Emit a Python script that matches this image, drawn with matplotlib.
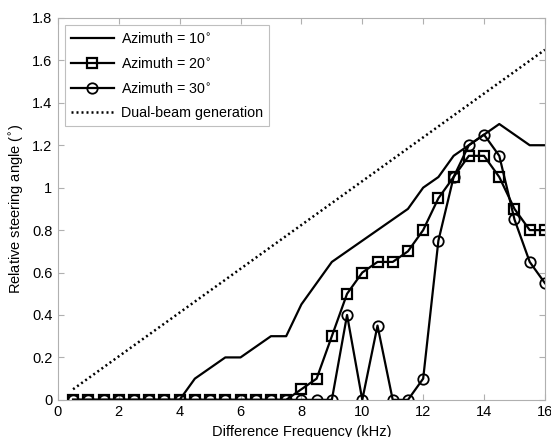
import numpy as np
import matplotlib.pyplot as plt

plt.rcParams['font.family'] = ['Liberation Sans', 'DejaVu Sans']

freq = np.arange(0.5, 16.01, 0.5)

az10 = [0, 0, 0, 0, 0, 0, 0, 0, 0.1, 0.15, 0.2, 0.2, 0.25, 0.3, 0.3, 0.45,
        0.55, 0.65, 0.7, 0.75, 0.8, 0.85, 0.9, 1.0, 1.05, 1.15, 1.2, 1.25,
        1.3, 1.25, 1.2, 1.2]
az20 = [0, 0, 0, 0, 0, 0, 0, 0, 0, 0, 0, 0, 0, 0, 0, 0.05,
        0.1, 0.3, 0.5, 0.6, 0.65, 0.65, 0.7, 0.8, 0.95, 1.05, 1.15, 1.15,
        1.05, 0.9, 0.8, 0.8]
az30 = [0, 0, 0, 0, 0, 0, 0, 0, 0, 0, 0, 0, 0, 0, 0, 0,
        0, 0, 0.4, 0, 0.35, 0, 0, 0.1, 0.75, 1.05, 1.2, 1.25,
        1.15, 0.85, 0.65, 0.55]
dual_x = [0.5, 16]
dual_y = [0.05, 1.65]

fig = plt.figure(figsize=(5.51, 4.37), dpi=100)
ax = fig.add_axes([0.105, 0.085, 0.884, 0.874])

ax.plot(freq, az10, color='black', lw=1.6, label=r'Azimuth = 10$^{\circ}$')
ax.plot(freq, az20, color='black', lw=1.6, marker='s', ms=7.5, mfc='none',
        mew=1.6, label=r'Azimuth = 20$^{\circ}$')
ax.plot(freq, az30, color='black', lw=1.6, marker='o', ms=7.5, mfc='none',
        mew=1.3, label=r'Azimuth = 30$^{\circ}$')
ax.plot(dual_x, dual_y, color='black', lw=1.8, linestyle=(0, (0.8, 1.2)),
        label='Dual-beam generation')

ax.set_xlim(0, 16)
ax.set_ylim(0, 1.8)
ax.set_xticks(np.arange(0, 17, 2))
ax.set_yticks(np.arange(0, 1.81, 0.2))
ax.set_yticklabels(['0', '0.2', '0.4', '0.6', '0.8', '1', '1.2', '1.4', '1.6', '1.8'])
ax.tick_params(direction='in', top=True, right=True, color='#b0b0b0',
               labelsize=10.5, length=4, pad=4)
for s in ax.spines.values():
    s.set_color('#b0b0b0')
    s.set_linewidth(0.8)

ax.set_xlabel('Difference Frequency (kHz)', fontsize=10.5, labelpad=4)
ax.set_ylabel(r'Relative steering angle ($^{\circ}$)', fontsize=10.5)

leg = ax.legend(loc='upper left', fontsize=10.3, frameon=True, fancybox=False,
                handlelength=3.0, borderaxespad=0.5, labelspacing=0.7,
                handletextpad=0.5)
leg.get_frame().set_edgecolor('#b0b0b0')
leg.get_frame().set_linewidth(0.8)

plt.savefig('out.png', dpi=100)
